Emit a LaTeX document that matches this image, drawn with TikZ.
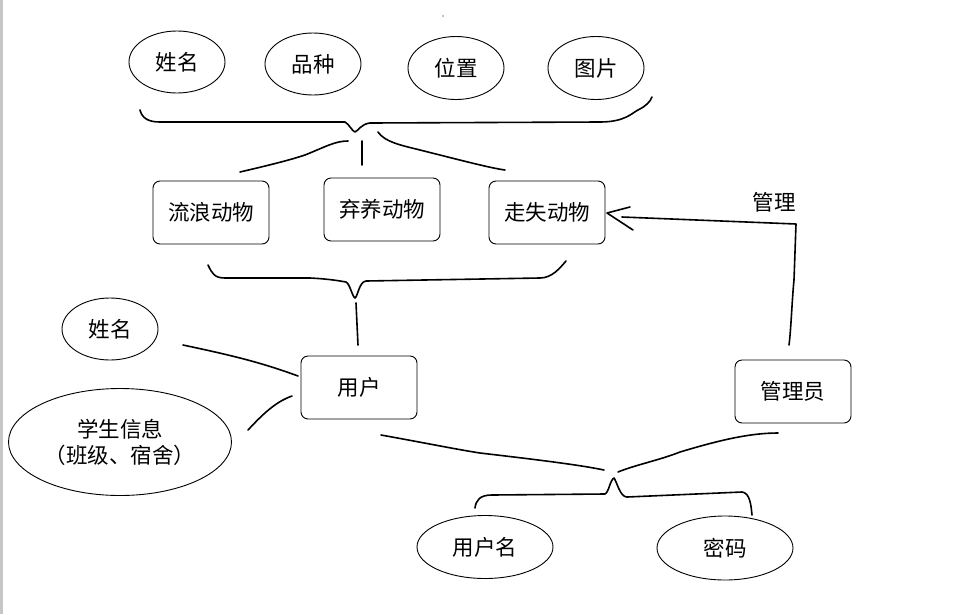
\documentclass[tikz,border=0pt]{standalone}
\usepackage{fontspec}
\setmainfont{Noto Sans CJK SC}
\usetikzlibrary{shapes.geometric}
\begin{document}
\begin{tikzpicture}[x=1pt,y=-1pt,
  every node/.style={font=\fontsize{21.5}{26}\selectfont},
  oval/.style={draw,ellipse,line width=0.9pt,inner sep=0pt},
  rbox/.style={draw,rounded corners=7pt,line width=0.9pt,minimum width=116pt,minimum height=63pt},
  hand/.style={line width=1.6pt,line cap=round,line join=round}]
\useasboundingbox (0,0) rectangle (967,614);
\fill[gray!45] (0,0) rectangle (3,614);
\fill[gray] (443,16) circle (0.8);
% top ellipses
\node[oval,minimum width=96pt,minimum height=62pt] (n1) at (177,62) {姓名};
\node[oval,minimum width=96pt,minimum height=62pt] (n2) at (313,64) {品种};
\node[oval,minimum width=96pt,minimum height=63pt] (n3) at (456,68) {位置};
\node[oval,minimum width=96pt,minimum height=63pt] (n4) at (596,68) {图片};
% animal boxes
\node[rbox] (a1) at (211,212.5) {流浪动物};
\node[rbox] (a2) at (382,209.5) {弃养动物};
\node[rbox] (a3) at (547,212.5) {走失动物};
\node[rbox] (u) at (359,387.5) {用户};
\node[rbox] (m) at (793,391.5) {管理员};
% other ellipses
\node[oval,minimum width=96pt,minimum height=62pt] (un) at (110,329) {姓名};
\node[oval,minimum width=223pt,minimum height=107pt,align=center] (si) at (120,442) {学生信息\\（班级、宿舍）};
\node[oval,minimum width=136pt,minimum height=63pt] (uname) at (485,547) {用户名};
\node[oval,minimum width=136pt,minimum height=64pt] (pw) at (725,548) {密码};
\node (lbl) at (774,202) {管理};
% coordinates of hand drawn strokes
\coordinate (b1s) at (140,110);
\coordinate (b1e) at (652,97);
\coordinate (b1d) at (355,132);
\coordinate (b2s) at (208,265);
\coordinate (b2e) at (566,261);
\coordinate (b2d) at (355,298);
\coordinate (b3s) at (475,508);
\coordinate (b3e) at (752,515);
\coordinate (b3p) at (614,478);
% top brace
\draw[hand] (b1s) .. controls (142,118) and (148,122) .. (160,122) -- (345,122)
  .. controls (349,124) and (352,131) .. (b1d) .. controls (358,131) and (361,124) .. (370,123)
  -- (600,122) .. controls (625,122) and (632,113) .. (638,110) .. controls (646,106) and (650,102) .. (b1e);
\draw[hand] (240,172) .. controls (270,165) and (290,160) .. (305,155) .. controls (325,147) and (335,141) .. (348,141);
\draw[hand] (362,141) -- (362,165);
\draw[hand] (378,132) .. controls (385,142) and (400,145) .. (420,150) .. controls (460,160) and (490,168) .. (505,170);
% middle brace
\draw[hand] (b2s) .. controls (212,273) and (214,278) .. (225,278) -- (310,278)
  .. controls (330,279) and (340,281) .. (346,282) .. controls (350,284) and (352,296) .. (b2d)
  .. controls (358,296) and (359,282) .. (366,281) -- (540,278) .. controls (552,278) and (560,268) .. (b2e);
\draw[hand] (356,303) -- (358,345);
% user attributes
\draw[hand] (183,345) .. controls (230,355) and (260,362) .. (298,376);
\draw[hand] (248,430) .. controls (262,415) and (275,402) .. (292,396);
% bottom connections
\draw[hand] (381,435) .. controls (420,442) and (460,450) .. (480,453) .. controls (540,460) and (580,465) .. (604,470);
\draw[hand] (618,472) .. controls (635,465) and (660,460) .. (680,452) .. controls (720,440) and (750,433) .. (778,433);
% bottom brace
\draw[hand] (b3s) .. controls (476,500) and (480,495) .. (492,495) -- (605,494)
  .. controls (609,492) and (610,480) .. (b3p) .. controls (617,482) and (620,497) .. (627,497)
  -- (742,492) .. controls (750,493) and (751,505) .. (b3e);
% manage arrow
\coordinate (mt) at (789,345);
\coordinate (mc) at (796,224);
\coordinate (tip) at (607,213);
\draw[hand] (mt) .. controls (791,330) and (792,300) .. (794,280) -- (mc) -- (622,217);
\draw[hand] (630,207) -- (tip) -- (633,230);
\end{tikzpicture}
\end{document}
